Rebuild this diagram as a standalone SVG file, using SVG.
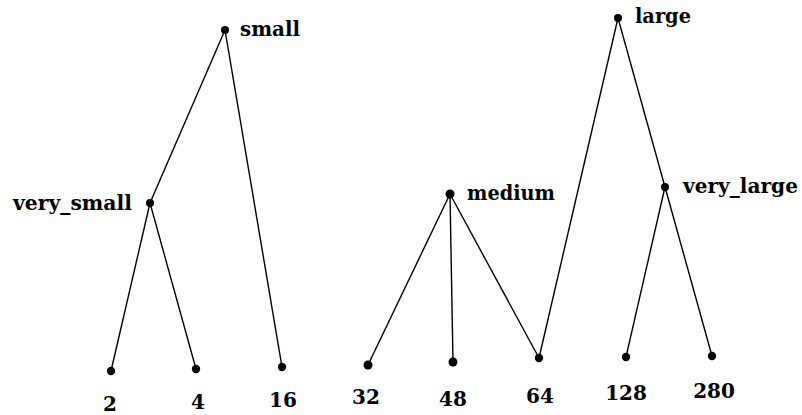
<svg xmlns="http://www.w3.org/2000/svg" width="802" height="415" viewBox="0 0 802 415">
<style>
.e{stroke:#000;stroke-width:1.4;fill:none}
.d{fill:#000}
.t{font-family:"DejaVu Serif","Liberation Serif",serif;font-weight:bold;font-size:20px;fill:#000}
.n{font-family:"DejaVu Serif","Liberation Serif",serif;font-weight:bold;font-size:20px;fill:#000;text-anchor:middle}
</style>
<rect width="802" height="415" fill="#fff"/>
<g id="edges">
<line class="e" x1="225" y1="30" x2="150" y2="203"/>
<line class="e" x1="225" y1="30" x2="282" y2="367"/>
<line class="e" x1="150" y1="203" x2="111" y2="371"/>
<line class="e" x1="150" y1="203" x2="196" y2="369"/>
<line class="e" x1="450" y1="194" x2="368" y2="365"/>
<line class="e" x1="450" y1="194" x2="453" y2="362"/>
<line class="e" x1="450" y1="194" x2="539" y2="358"/>
<line class="e" x1="618" y1="18" x2="539" y2="358"/>
<line class="e" x1="618" y1="18" x2="665" y2="187"/>
<line class="e" x1="665" y1="187" x2="626" y2="357"/>
<line class="e" x1="665" y1="187" x2="712" y2="356"/>
</g>
<g id="small"><circle class="d" cx="225" cy="30" r="4"/><text class="t" x="240" y="36" textLength="60" lengthAdjust="spacingAndGlyphs">small</text></g>
<g id="very_small"><circle class="d" cx="150" cy="203" r="4"/><text class="t" x="13" y="210" textLength="119" lengthAdjust="spacingAndGlyphs">very_small</text></g>
<g id="medium"><circle class="d" cx="450" cy="194" r="4.5"/><text class="t" x="467" y="200" textLength="88" lengthAdjust="spacingAndGlyphs">medium</text></g>
<g id="large"><circle class="d" cx="618" cy="18" r="4"/><text class="t" x="635" y="23" textLength="56" lengthAdjust="spacingAndGlyphs">large</text></g>
<g id="very_large"><circle class="d" cx="665" cy="187" r="4"/><text class="t" x="683" y="193" textLength="115" lengthAdjust="spacingAndGlyphs">very_large</text></g>
<g id="n2"><circle class="d" cx="111" cy="371" r="4.2"/><text class="n" x="110" y="411">2</text></g>
<g id="n4"><circle class="d" cx="196" cy="369" r="4.2"/><text class="n" x="198" y="409">4</text></g>
<g id="n16"><circle class="d" cx="282" cy="367" r="4.2"/><text class="n" x="283" y="407">16</text></g>
<g id="n32"><circle class="d" cx="368" cy="365" r="4.5"/><text class="n" x="366" y="404">32</text></g>
<g id="n48"><circle class="d" cx="453" cy="362" r="4.5"/><text class="n" x="453" y="406">48</text></g>
<g id="n64"><circle class="d" cx="539" cy="358" r="4.2"/><text class="n" x="540" y="403">64</text></g>
<g id="n128"><circle class="d" cx="626" cy="357" r="4.2"/><text class="n" x="626" y="400">128</text></g>
<g id="n280"><circle class="d" cx="712" cy="356" r="4.2"/><text class="n" x="714" y="398">280</text></g>
</svg>
